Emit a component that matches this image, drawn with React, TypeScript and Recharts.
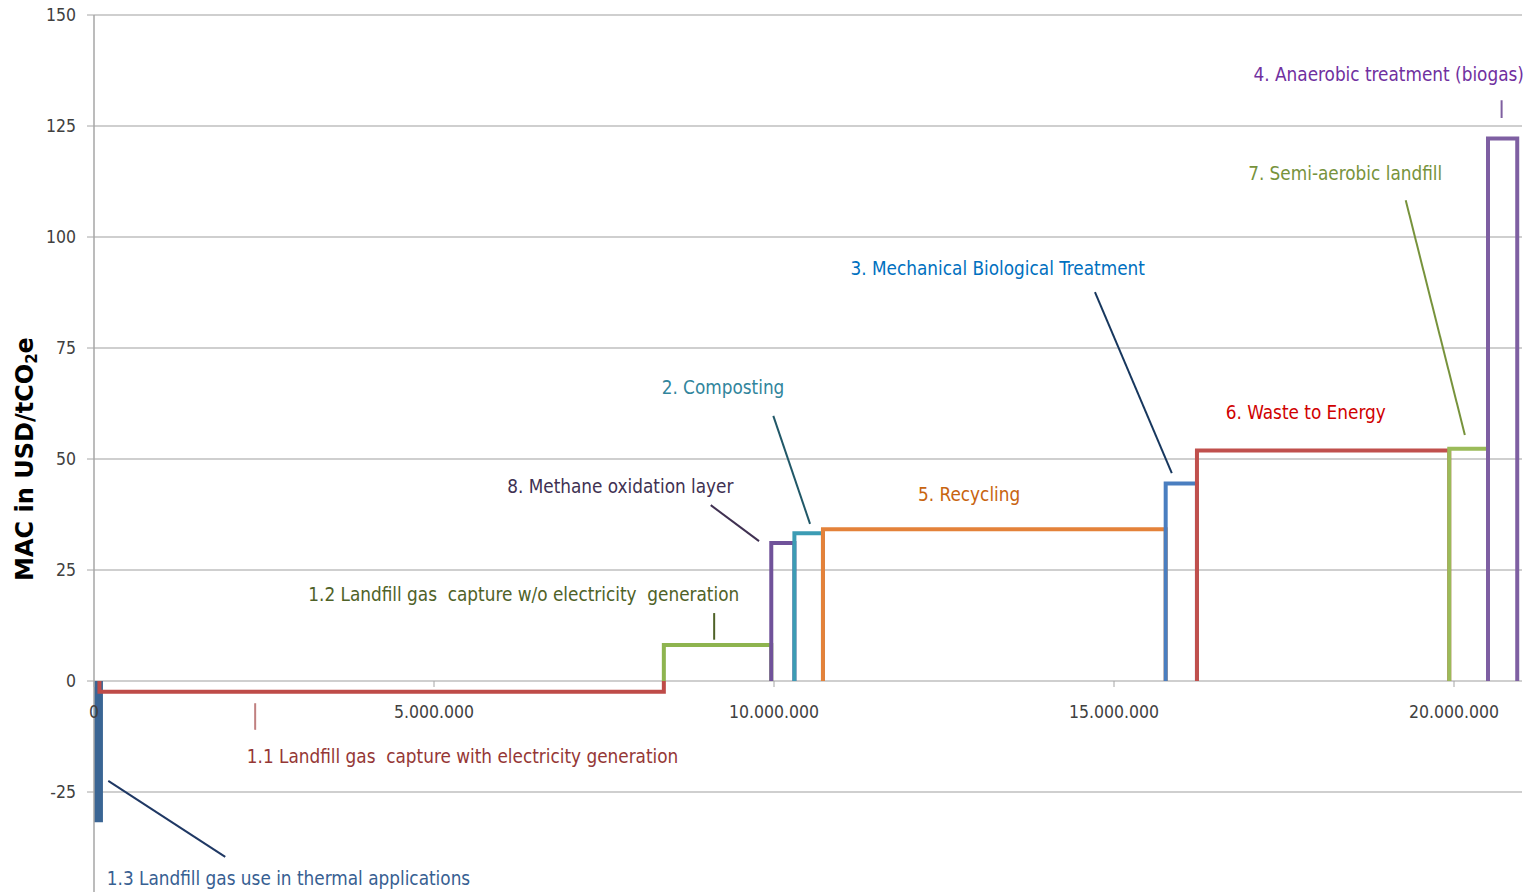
import React from "react";
import {
  LineChart,
  Line,
  XAxis,
  YAxis,
  CartesianGrid,
  ReferenceLine,
  ReferenceDot,
} from "recharts";

// abatement measures, left to right along the curve
const measures = [
  "1.3 Landfill gas use in thermal applications",
  "1.1 Landfill gas  capture with electricity generation",
  "1.2 Landfill gas  capture w/o electricity  generation",
  "8. Methane oxidation layer",
  "2. Composting",
  "5. Recycling",
  "3. Mechanical Biological Treatment",
  "6. Waste to Energy",
  "7. Semi-aerobic landfill",
  "4. Anaerobic treatment (biogas)",
];
// abatement potential of each measure (million tCO2e)
const potentials = [0.08, 8.3, 1.58, 0.34, 0.42, 5.04, 0.46, 3.71, 0.57, 0.43];
// marginal abatement cost (USD/tCO2e)
const costs = [-31, -2.4, 8.1, 31.1, 33.3, 34.2, 44.5, 51.9, 52.3, 122.2];

const lineColors = [
  "#3A6594", "#BE4B48", "#8EB44F", "#70529A", "#3C9CB4",
  "#E4823A", "#4A7EC0", "#C0504D", "#9BBB59", "#7E5FA2",
];
const textColors = [
  "#376092", "#953735", "#4F6228", "#403152", "#31859C",
  "#C8640F", "#0070C0", "#D00000", "#77933C", "#7030A0",
];
const leaderColors = [
  "#1F3864", "#C08080", "#4F6228", "#403152", "#215868",
  null, "#17375E", null, "#77933C", "#7F5FA0",
];

// label centres in data units (x in million tCO2e)
const labelX = [2.86, 5.42, 6.32, 7.74, 9.25, 12.87, 13.29, 17.82, 18.4, 19.04];
const labelY = [-44.4, -17.1, 19.4, 43.9, 66.0, 41.9, 93.0, 60.4, 114.4, 136.5];
// leader lines [x1, y1, x2, y2]
const leaders: (number[] | null)[] = [
  [0.21, -22.5, 1.93, -39.6],
  [2.37, -5.0, 2.37, -11.0],
  [9.12, 15.3, 9.12, 9.3],
  [9.07, 39.6, 9.78, 31.5],
  [9.99, 59.7, 10.53, 35.4],
  null,
  [14.72, 87.6, 15.85, 46.8],
  null,
  [19.29, 108.3, 20.16, 55.4],
  [20.7, 130.8, 20.7, 126.8],
];

const xTicks = [0, 5000000, 10000000, 15000000, 20000000];
const yTicks = [-25, 0, 25, 50, 75, 100, 125, 150];

const M = 1000000;
const FONT = "'Liberation Sans Narrow', 'DejaVu Sans Condensed', sans-serif";

const CHART_W = 1536;
const CHART_H = 933;
const TOP = 15;
const XAXIS_H = 30;
const Y_MIN = -50;
const Y_MAX = 150;
const PLOT_H = CHART_H - TOP - XAXIS_H;
const ZERO_Y = TOP + (PLOT_H * Y_MAX) / (Y_MAX - Y_MIN);

// each measure is a box from 0 up (or down) to its cost
let start = 0;
const blocks = potentials.map((p, i) => {
  const x0 = start * M;
  const x1 = (start + p) * M;
  start += p;
  return [
    { x: x0, y: 0 },
    { x: x0, y: costs[i] },
    { x: x1, y: costs[i] },
    { x: x1, y: 0 },
  ];
});

const fmt = (v: number) =>
  v === 0 ? "0" : String(v).replace(/\B(?=(\d{3})+(?!\d))/g, ".");

const ZeroAxisTick = (props: any) => {
  const { x, payload } = props;
  return (
    <g>
      <line x1={x} x2={x} y1={ZERO_Y} y2={ZERO_Y + 6} stroke="#A6A6A6" />
      <text
        x={x}
        y={ZERO_Y + 37}
        textAnchor="middle"
        fill="#404040"
        fontSize={17.5}
        fontFamily={FONT}
      >
        {fmt(payload.value)}
      </text>
    </g>
  );
};

const YTitle = (props: any) => {
  const { viewBox } = props;
  const cx = viewBox.x + 25;
  const cy = 459;
  return (
    <text
      x={cx}
      y={cy}
      transform={`rotate(-90, ${cx}, ${cy})`}
      textAnchor="middle"
      dominantBaseline="central"
      fontSize={24}
      fontWeight="bold"
      fontFamily="'DejaVu Sans', sans-serif"
      fill="#000"
    >
      MAC in USD/tCO
      <tspan fontSize={15} dy={7}>2</tspan>
      <tspan dy={-7}>e</tspan>
    </text>
  );
};

const makeLabel = (text: string, color: string) => (props: any) => {
  const { viewBox } = props;
  const cx = viewBox.x + viewBox.width / 2;
  const cy = viewBox.y + viewBox.height / 2;
  return (
    <text
      x={cx}
      y={cy}
      textAnchor="middle"
      dominantBaseline="central"
      fill={color}
      fontSize={18.8}
      fontFamily={FONT}
      style={{ whiteSpace: "pre" }}
    >
      {text}
    </text>
  );
};

export default function App() {
  return (
    <div
      style={{
        position: "fixed",
        left: 0,
        top: 0,
        width: 1536,
        height: 892,
        overflow: "hidden",
        background: "#fff",
      }}
    >
      <LineChart
        width={CHART_W}
        height={CHART_H}
        margin={{ top: TOP, right: 14, left: 0, bottom: 0 }}
      >
        <CartesianGrid vertical={false} stroke="#BFBFBF" strokeWidth={1.3} />
        <XAxis
          type="number"
          dataKey="x"
          domain={[0, 21 * M]}
          ticks={xTicks}
          height={XAXIS_H}
          axisLine={false}
          tickLine={false}
          tick={<ZeroAxisTick />}
          interval={0}
          allowDataOverflow
        />
        <YAxis
          type="number"
          domain={[Y_MIN, Y_MAX]}
          ticks={yTicks}
          width={94}
          axisLine={{ stroke: "#A6A6A6", strokeWidth: 1.5 }}
          tickLine={{ stroke: "#A6A6A6" }}
          tickSize={7}
          tickMargin={11}
          tick={{ fontSize: 17.5, fill: "#404040", fontFamily: FONT }}
          label={<YTitle />}
          allowDataOverflow
        />
        {blocks.map((pts, i) => (
          <Line
            key={measures[i]}
            data={pts}
            dataKey="y"
            type="linear"
            stroke={lineColors[i]}
            strokeWidth={i === 0 ? 7 : 4}
            dot={false}
            activeDot={false}
            isAnimationActive={false}
          />
        ))}
        {leaders.map((seg, i) =>
          seg ? (
            <ReferenceLine
              key={"l" + i}
              segment={[
                { x: seg[0] * M, y: seg[1] },
                { x: seg[2] * M, y: seg[3] },
              ]}
              stroke={leaderColors[i] as string}
              strokeWidth={2}
            />
          ) : null
        )}
        {measures.map((m, i) => (
          <ReferenceDot
            key={"t" + i}
            x={labelX[i] * M}
            y={labelY[i]}
            r={0}
            fill="none"
            stroke="none"
            label={makeLabel(m, textColors[i])}
          />
        ))}
      </LineChart>
    </div>
  );
}
